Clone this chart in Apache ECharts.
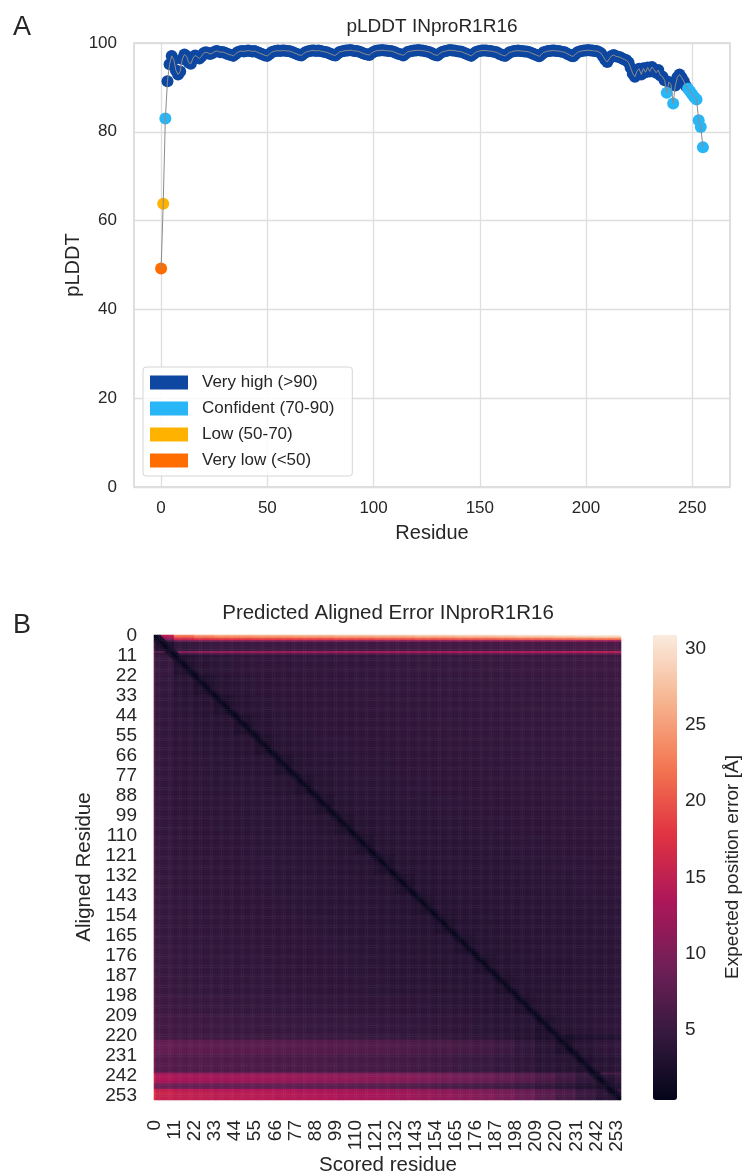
<!DOCTYPE html>
<html>
<head>
<meta charset="utf-8">
<title>pLDDT / PAE INproR1R16</title>
<script src="https://cdn.jsdelivr.net/npm/echarts@6/dist/echarts.min.js"></script>
<style>
  html, body { margin: 0; padding: 0; background: #fff; }
  #chart { width: 746px; height: 1175px; }
</style>
</head>
<body>
<div id="chart"></div>
<script>
// ---- panel A : pLDDT per residue (residue 0..255), 16 per line ----
const plddt = [
  49.2, 63.8, 83.0, 91.4, 95.2, 97.1, 96.2, 93.8, 92.9, 93.6, 96.4, 97.4, 97.0, 95.6, 95.3, 96.6,
  97.2, 96.9, 96.5, 97.0, 97.7, 97.9, 97.8, 97.5, 97.7, 98.0, 98.2, 98.1, 97.9, 98.0, 97.8, 97.6,
  97.4, 97.3, 97.1, 97.5, 97.9, 98.1, 98.2, 98.1, 98.2, 98.3, 98.2, 98.1, 98.2, 98.0, 97.8, 97.6,
  97.4, 97.2, 97.1, 97.5, 97.9, 98.1, 98.2, 98.3, 98.2, 98.3, 98.3, 98.2, 98.2, 98.1, 97.9, 97.7,
  97.5, 97.3, 97.2, 97.6, 97.9, 98.1, 98.2, 98.3, 98.3, 98.2, 98.3, 98.2, 98.1, 98.0, 97.9, 97.7,
  97.5, 97.3, 97.2, 97.6, 98.0, 98.1, 98.2, 98.3, 98.3, 98.4, 98.3, 98.2, 98.2, 98.1, 97.9, 97.7,
  97.5, 97.4, 97.3, 97.7, 98.0, 98.2, 98.3, 98.3, 98.4, 98.3, 98.3, 98.2, 98.2, 98.1, 97.9, 97.7,
  97.5, 97.4, 97.2, 97.6, 98.0, 98.1, 98.2, 98.3, 98.3, 98.4, 98.3, 98.3, 98.2, 98.1, 98.0, 97.8,
  97.5, 97.3, 97.2, 97.6, 97.9, 98.1, 98.2, 98.3, 98.4, 98.3, 98.3, 98.2, 98.1, 98.1, 97.9, 97.7,
  97.5, 97.3, 97.1, 97.5, 97.9, 98.1, 98.2, 98.3, 98.3, 98.3, 98.2, 98.2, 98.1, 98.0, 97.9, 97.6,
  97.4, 97.2, 97.1, 97.5, 97.9, 98.0, 98.2, 98.2, 98.3, 98.2, 98.2, 98.1, 98.1, 98.0, 97.8, 97.6,
  97.4, 97.2, 97.0, 97.4, 97.9, 98.0, 98.2, 98.2, 98.3, 98.3, 98.2, 98.2, 98.1, 98.0, 97.9, 97.6,
  97.4, 97.1, 97.0, 97.5, 97.9, 98.1, 98.2, 98.3, 98.3, 98.4, 98.3, 98.3, 98.2, 98.2, 98.0, 97.7,
  97.0, 96.2, 95.7, 96.5, 97.1, 97.3, 97.0, 96.9, 96.8, 96.5, 96.3, 96.1, 95.6, 94.4, 93.1, 92.4,
  93.7, 94.2, 92.9, 94.3, 93.4, 94.5, 93.6, 94.6, 94.0, 93.3, 93.9, 92.7, 92.4, 91.6, 88.8, 91.2,
  90.6, 86.4, 90.4, 92.3, 92.9, 92.2, 91.4, 90.3, 89.7, 89.1, 88.4, 87.8, 87.3, 82.6, 81.1, 76.5
];
const binNames = ['Very high (>90)', 'Confident (70-90)', 'Low (50-70)', 'Very low (<50)'];
const binLower = [90, 70, 50, -Infinity];
const plddtXTicks = [0, 50, 100, 150, 200, 250];

// ---- panel B : predicted aligned error ----
const paeBlockSize = 11; // one block = one tick step (11 residues)
// typical error per 11x11 block, rows = aligned residue band, cols = scored residue band
const paeBlocks = [
  [3.0, 4.6, 5.0, 5.2, 5.2, 5.3, 5.3, 5.4, 5.4, 5.5, 5.5, 5.6, 5.6, 5.7, 5.7, 5.8, 5.8, 5.9, 6.0, 6.0, 6.1, 6.2, 6.3, 6.3],
  [4.9, 3.1, 3.8, 4.1, 4.3, 4.4, 4.4, 4.5, 4.5, 4.6, 4.6, 4.7, 4.8, 4.8, 4.9, 4.9, 5.0, 5.0, 5.1, 5.1, 5.2, 5.3, 5.3, 5.4],
  [4.7, 3.8, 3.0, 3.7, 4.0, 4.2, 4.3, 4.3, 4.4, 4.4, 4.5, 4.5, 4.6, 4.6, 4.7, 4.7, 4.8, 4.8, 4.9, 4.9, 5.0, 5.0, 5.1, 5.2],
  [4.6, 4.0, 3.7, 3.0, 3.7, 4.0, 4.1, 4.2, 4.3, 4.3, 4.4, 4.4, 4.5, 4.5, 4.6, 4.6, 4.7, 4.7, 4.8, 4.8, 4.9, 4.9, 5.0, 5.1],
  [4.6, 4.1, 3.9, 3.7, 3.0, 3.7, 4.0, 4.1, 4.2, 4.2, 4.3, 4.3, 4.4, 4.4, 4.5, 4.5, 4.6, 4.6, 4.7, 4.7, 4.8, 4.8, 4.9, 5.0],
  [4.6, 4.2, 4.0, 3.9, 3.7, 3.0, 3.7, 3.9, 4.1, 4.1, 4.2, 4.2, 4.3, 4.3, 4.4, 4.4, 4.5, 4.5, 4.6, 4.6, 4.7, 4.7, 4.8, 4.9],
  [4.6, 4.2, 4.1, 4.0, 3.9, 3.7, 3.0, 3.6, 3.9, 4.0, 4.1, 4.1, 4.2, 4.2, 4.3, 4.3, 4.4, 4.4, 4.5, 4.5, 4.6, 4.6, 4.7, 4.8],
  [4.6, 4.2, 4.1, 4.0, 4.0, 3.9, 3.6, 3.0, 3.6, 3.9, 4.0, 4.0, 4.1, 4.1, 4.2, 4.2, 4.3, 4.3, 4.4, 4.4, 4.5, 4.5, 4.6, 4.7],
  [4.6, 4.2, 4.1, 4.1, 4.0, 4.0, 3.9, 3.6, 3.0, 3.6, 3.8, 3.9, 4.0, 4.0, 4.1, 4.1, 4.2, 4.2, 4.3, 4.3, 4.4, 4.4, 4.5, 4.6],
  [4.6, 4.3, 4.2, 4.1, 4.0, 4.0, 3.9, 3.8, 3.6, 3.0, 3.6, 3.8, 3.9, 3.9, 4.0, 4.0, 4.1, 4.1, 4.2, 4.2, 4.3, 4.3, 4.4, 4.5],
  [4.7, 4.3, 4.2, 4.2, 4.1, 4.0, 4.0, 3.9, 3.8, 3.6, 3.0, 3.6, 3.8, 3.8, 3.9, 3.9, 4.0, 4.0, 4.1, 4.1, 4.2, 4.2, 4.3, 4.4],
  [4.7, 4.4, 4.3, 4.2, 4.1, 4.1, 4.0, 3.9, 3.8, 3.7, 3.6, 3.0, 3.6, 3.7, 3.8, 3.8, 3.9, 3.9, 4.0, 4.0, 4.1, 4.1, 4.2, 4.3],
  [4.8, 4.4, 4.3, 4.3, 4.2, 4.1, 4.0, 4.0, 3.9, 3.8, 3.7, 3.6, 3.0, 3.5, 3.7, 3.8, 3.8, 3.9, 3.9, 4.0, 4.0, 4.1, 4.1, 4.2],
  [4.8, 4.5, 4.4, 4.3, 4.2, 4.2, 4.1, 4.0, 3.9, 3.8, 3.8, 3.7, 3.5, 3.0, 3.5, 3.7, 3.7, 3.8, 3.8, 3.9, 3.9, 4.0, 4.0, 4.1],
  [4.9, 4.5, 4.4, 4.4, 4.3, 4.2, 4.2, 4.1, 4.0, 3.9, 3.8, 3.7, 3.6, 3.5, 3.0, 3.5, 3.6, 3.7, 3.8, 3.8, 3.9, 3.9, 4.0, 4.1],
  [5.0, 4.6, 4.5, 4.4, 4.4, 4.3, 4.2, 4.2, 4.1, 4.0, 3.9, 3.8, 3.7, 3.6, 3.5, 3.0, 3.5, 3.6, 3.7, 3.8, 3.8, 3.9, 3.9, 4.0],
  [5.0, 4.7, 4.6, 4.5, 4.4, 4.4, 4.3, 4.2, 4.2, 4.1, 4.0, 3.9, 3.8, 3.7, 3.6, 3.5, 3.0, 3.5, 3.6, 3.7, 3.7, 3.8, 3.9, 4.0],
  [5.1, 4.8, 4.7, 4.6, 4.5, 4.5, 4.4, 4.3, 4.2, 4.2, 4.1, 4.0, 3.9, 3.8, 3.7, 3.6, 3.5, 3.0, 3.5, 3.6, 3.7, 3.8, 3.9, 4.0],
  [5.4, 5.1, 5.0, 4.9, 4.8, 4.7, 4.7, 4.6, 4.5, 4.4, 4.3, 4.3, 4.2, 4.1, 4.0, 3.9, 3.7, 3.5, 3.0, 3.6, 3.8, 3.9, 4.0, 4.1],
  [5.8, 5.5, 5.4, 5.3, 5.2, 5.1, 5.0, 4.9, 4.9, 4.8, 4.7, 4.6, 4.5, 4.4, 4.3, 4.2, 4.0, 3.8, 3.6, 3.0, 3.6, 3.9, 4.1, 4.2],
  [8.2, 7.8, 7.7, 7.6, 7.5, 7.4, 7.3, 7.2, 7.1, 7.0, 6.9, 6.8, 6.6, 6.4, 6.2, 6.0, 5.7, 5.3, 4.6, 3.8, 3.1, 3.8, 4.2, 4.5],
  [7.2, 6.9, 6.8, 6.7, 6.6, 6.5, 6.4, 6.3, 6.2, 6.1, 6.0, 5.9, 5.8, 5.6, 5.4, 5.2, 5.0, 4.7, 4.3, 3.9, 3.6, 3.1, 3.7, 4.0],
  [11.5, 11.0, 10.8, 10.6, 10.5, 10.4, 10.2, 10.0, 9.8, 9.6, 9.4, 9.2, 9.0, 8.6, 8.2, 7.8, 7.4, 6.9, 6.3, 5.6, 4.8, 3.9, 3.1, 3.8],
  [15.5, 15.0, 14.8, 14.6, 14.4, 14.2, 14.0, 13.8, 13.6, 13.4, 13.1, 12.8, 12.4, 12.0, 11.5, 11.0, 10.4, 9.6, 8.6, 7.4, 6.0, 4.8, 3.7, 3.0]
];
// thin stripes inside the blocks: [aligned residue, scale of the block error]
const paeRowScale = [
  [0, 5.0], [1, 4.3], [2, 3.4], [3, 1.8], [9, 2.3], [10, 1.4],
  [220, 0.7], [221, 0.7], [222, 0.75], [241, 1.6],
  [242, 1.15], [243, 1.2], [244, 1.2], [245, 1.15], [246, 1.1],
  [247, 0.8], [248, 0.75], [249, 0.8], [250, 1.3], [251, 1.35], [252, 1.4]
];
const paeColAccents = [[0, 2.5]];
// error right on / next to the diagonal (|i - j| = 0, 1, 2, 3)
const paeDiagonal = [0.6, 1.5, 2.2, 2.7];
const paeRange = [0.4, 30.9];
const paeColorTicks = [5, 10, 15, 20, 25, 30];

// ---- styles ----
const binColors = ['#0d47a1', '#29b6f6', '#ffb300', '#ff6d00'];
const rocket = ['#03051a', '#35193e', '#701f57', '#ad1759', '#e13342', '#f37651', '#f6b48f', '#faebdd'];
const FONT = '"Liberation Sans", Arial, Helvetica, sans-serif';
const INK = '#262626';

const chart = echarts.init(document.getElementById('chart'));

// split the points by confidence bin
const binData = binNames.map(() => []);
plddt.forEach((v, i) => {
  const b = binLower.findIndex(lo => v > lo);
  binData[b].push([i, v]);
});

const N = plddt.length;
const residues = plddt.map((_, i) => String(i));

const rowScale = {};
paeRowScale.forEach(([r, s]) => { rowScale[r] = s; });
const colAcc = {};
paeColAccents.forEach(([c, d]) => { colAcc[c] = d; });

const heatData = [];
for (let i = 0; i < N; i++) {
  const rb = Math.floor(i / paeBlockSize);
  for (let j = 0; j < N; j++) {
    const cb = Math.floor(j / paeBlockSize);
    let v = paeBlocks[rb][cb] * (rowScale[i] || 1) + (colAcc[j] || 0);
    const d = Math.abs(i - j);
    if (d < paeDiagonal.length) v = Math.min(v, paeDiagonal[d]);
    heatData.push([j, i, Math.round(v * 100) / 100]);
  }
}

function label (text, x, y, size, rot) {
  return {
    type: 'text', x: x, y: y, rotation: rot || 0, silent: true,
    style: {
      text: text, font: size + 'px ' + FONT, fill: INK,
      align: 'center', verticalAlign: 'middle',
      textAlign: 'center', textVerticalAlign: 'middle'
    }
  };
}

const scatterSeries = binNames.map((name, k) => ({
  name: name,
  type: 'scatter',
  xAxisIndex: 0,
  yAxisIndex: 0,
  data: binData[k],
  symbolSize: 12,
  itemStyle: { color: binColors[k], opacity: 1 },
  z: 2
}));

const option = {
  animation: false,
  textStyle: { fontFamily: FONT, color: INK },
  grid: [
    { left: 134, top: 43, width: 596, height: 444, show: true, borderColor: '#d4d4d4', borderWidth: 1.5, backgroundColor: '#fff' },
    { left: 154, top: 635, width: 467, height: 465, show: false },
    { left: 653, top: 635, width: 24, height: 465, show: false }
  ],
  xAxis: [
    {
      gridIndex: 0, type: 'value', min: -12.75, max: 267.75,
      axisLine: { show: false },
      axisTick: { show: false, customValues: plddtXTicks },
      axisLabel: { customValues: plddtXTicks, fontSize: 17, color: INK, margin: 13 },
      splitLine: { show: true, lineStyle: { color: '#dedede', width: 1.3 } }
    },
    {
      gridIndex: 1, type: 'category', data: residues,
      axisLine: { show: false }, axisTick: { show: false },
      axisLabel: { interval: 10, rotate: 90, fontSize: 19, color: INK, margin: 20 },
      splitLine: { show: false }
    },
    { gridIndex: 2, type: 'value', show: false }
  ],
  yAxis: [
    {
      gridIndex: 0, type: 'value', min: 0, max: 100, interval: 20,
      axisLine: { show: false }, axisTick: { show: false },
      axisLabel: { fontSize: 17, color: INK, margin: 17 },
      splitLine: { show: true, lineStyle: { color: '#dedede', width: 1.3 } }
    },
    {
      gridIndex: 1, type: 'category', data: residues, inverse: true,
      axisLine: { show: false }, axisTick: { show: false },
      axisLabel: { interval: 10, fontSize: 19, color: INK, margin: 17 },
      splitLine: { show: false }
    },
    {
      gridIndex: 2, type: 'value', min: paeRange[0], max: paeRange[1], position: 'right',
      axisLine: { show: false },
      axisTick: { show: true, length: 6, customValues: paeColorTicks, lineStyle: { color: INK, width: 1.3 } },
      axisLabel: { customValues: paeColorTicks, fontSize: 19, color: INK, margin: 8 },
      splitLine: { show: false }
    }
  ],
  legend: {
    data: binNames,
    orient: 'vertical',
    left: 143, top: 367,
    icon: 'rect', itemWidth: 38, itemHeight: 14, itemGap: 9,
    padding: [7, 18, 7, 7],
    backgroundColor: 'rgba(255,255,255,0.85)',
    borderColor: '#d6d6d6', borderWidth: 1, borderRadius: 3,
    selectedMode: false,
    textStyle: { fontSize: 17, color: INK, padding: [0, 0, 0, 9] }
  },
  visualMap: {
    type: 'continuous',
    seriesIndex: binNames.length + 1,
    min: paeRange[0], max: paeRange[1],
    calculable: false, orient: 'vertical',
    left: 653, top: 635, itemWidth: 24, itemHeight: 465, padding: 0,
    text: null,
    inRange: { color: rocket }
  },
  graphic: [
    label('A', 22, 28, 27),
    label('pLDDT INproR1R16', 432, 27, 19),
    label('Residue', 432, 533, 20),
    label('pLDDT', 73, 265, 20, Math.PI / 2),
    label('B', 22, 626, 27),
    label('Predicted Aligned Error INproR1R16', 388, 613, 20.5),
    label('Aligned Residue', 84, 867, 20.5, Math.PI / 2),
    label('Scored residue', 388, 1165, 20.5),
    label('Expected position error [Å]', 733, 867, 19, Math.PI / 2)
  ],
  series: scatterSeries.concat([
    {
      name: 'trace', type: 'line', xAxisIndex: 0, yAxisIndex: 0,
      data: plddt.map((v, i) => [i, v]),
      symbol: 'none', silent: true,
      lineStyle: { color: '#8c8c8c', width: 1 },
      z: 3
    },
    {
      name: 'PAE', type: 'heatmap', xAxisIndex: 1, yAxisIndex: 1,
      data: heatData, progressive: 0, silent: true,
      emphasis: { disabled: true }
    }
  ])
};

chart.setOption(option);
</script>
</body>
</html>
